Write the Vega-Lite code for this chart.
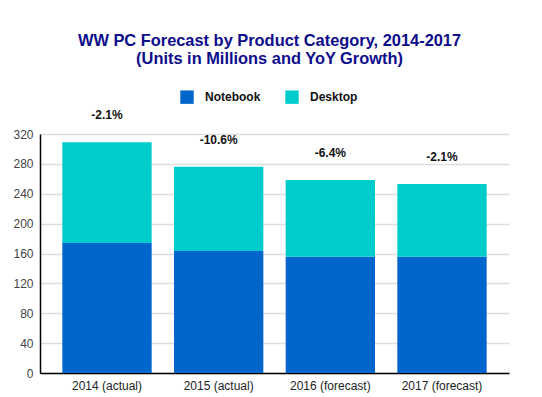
{
  "$schema": "https://vega.github.io/schema/vega-lite/v6.json",
  "width": 469,
  "height": 239,
  "autosize": "none",
  "padding": {"left": 40, "top": 134, "right": 33, "bottom": 24},
  "background": "white",
  "title": {
    "text": ["WW PC Forecast by Product Category, 2014-2017", "(Units in Millions and YoY Growth)"],
    "font": "Liberation Sans",
    "fontSize": 16.4,
    "fontWeight": "bold",
    "color": "#0D0D8C",
    "lineHeight": 18,
    "anchor": "middle",
    "frame": "group",
    "dx": -5,
    "offset": 23
  },
  "datasets": {
    "units": [
      {"year": "2014 (actual)", "category": "Notebook", "ord": 1, "value": 174},
      {"year": "2014 (actual)", "category": "Desktop", "ord": 2, "value": 135},
      {"year": "2015 (actual)", "category": "Notebook", "ord": 1, "value": 163.5},
      {"year": "2015 (actual)", "category": "Desktop", "ord": 2, "value": 112.5},
      {"year": "2016 (forecast)", "category": "Notebook", "ord": 1, "value": 155.5},
      {"year": "2016 (forecast)", "category": "Desktop", "ord": 2, "value": 103},
      {"year": "2017 (forecast)", "category": "Notebook", "ord": 1, "value": 155.5},
      {"year": "2017 (forecast)", "category": "Desktop", "ord": 2, "value": 97.5}
    ],
    "growth": [
      {"year": "2014 (actual)", "total": 309, "label": "-2.1%"},
      {"year": "2015 (actual)", "total": 276, "label": "-10.6%"},
      {"year": "2016 (forecast)", "total": 258.5, "label": "-6.4%"},
      {"year": "2017 (forecast)", "total": 253, "label": "-2.1%"}
    ]
  },
  "layer": [
    {
      "data": {"name": "units"},
      "mark": {"type": "bar"},
      "encoding": {
        "x": {
          "field": "year", "type": "nominal", "sort": null,
          "scale": {"paddingInner": 0.2, "paddingOuter": 0.2},
          "axis": {"title": null, "labelAngle": 0, "labelFont": "Liberation Sans", "labelFontSize": 12, "labelColor": "#222222", "ticks": false, "labelPadding": 7, "domainColor": "#000000", "domainWidth": 1.5}
        },
        "y": {
          "field": "value", "type": "quantitative", "stack": "zero",
          "scale": {"domain": [0, 320], "nice": false},
          "axis": {"title": null, "values": [0, 40, 80, 120, 160, 200, 240, 280, 320], "tickCount": 9, "labelOverlap": false, "labelFont": "Liberation Sans", "labelFontSize": 12, "labelColor": "#444444", "ticks": false, "labelPadding": 7, "domainColor": "#000000", "domainWidth": 1.5, "gridColor": "#DDDDDD", "gridWidth": 1.5}
        },
        "color": {
          "field": "category", "type": "nominal",
          "scale": {"domain": ["Notebook", "Desktop"], "range": ["#0066CC", "#00CCCC"]},
          "legend": {
            "title": null, "orient": "none", "direction": "horizontal",
            "legendX": 140, "legendY": -44,
            "symbolType": "square", "symbolSize": 180, "symbolStrokeWidth": 0, "symbolOpacity": 1,
            "labelFont": "Liberation Sans", "labelFontSize": 12, "labelFontWeight": "bold", "labelColor": "#111111",
            "labelOffset": 11, "columnPadding": 24
          }
        },
        "order": {"field": "ord", "type": "quantitative", "sort": "ascending"}
      }
    },
    {
      "data": {"name": "growth"},
      "mark": {"type": "text", "dy": -27, "font": "Liberation Sans", "fontSize": 12, "fontWeight": "bold", "color": "#111111", "baseline": "middle"},
      "encoding": {
        "x": {"field": "year", "type": "nominal", "sort": null},
        "y": {"field": "total", "type": "quantitative"},
        "text": {"field": "label"}
      }
    }
  ],
  "config": {"view": {"stroke": null}}
}
